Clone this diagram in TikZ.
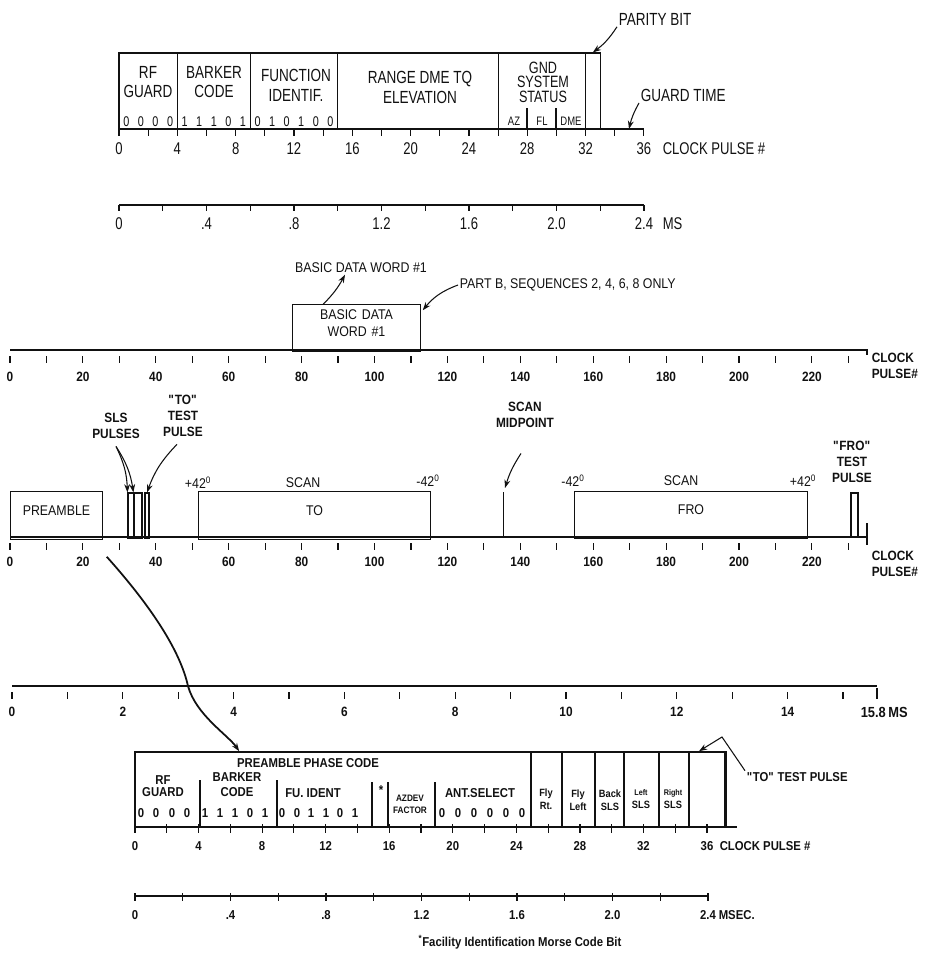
\documentclass[tikz,border=0pt]{standalone}
\usepackage{fontspec}
\setmainfont{Liberation Sans}[FakeStretch=0.88]
\newfontfamily\topfont{Liberation Sans}[FakeStretch=0.77]
\usetikzlibrary{arrows.meta,calc,fit}
\definecolor{Ink}{HTML}{111111}

\tikzset{
  wbox/.style={draw,inner sep=0pt,fit={#1}},
  lead/.style={-{Stealth[length=7pt,width=5pt]},line width=0.9pt},
  toptxt/.style={font=\topfont\fontsize{15}{17}\selectfont,align=center,inner sep=1pt},
  topnum/.style={font=\topfont\fontsize{14.5}{15}\selectfont,inner sep=1pt},
  bittxt/.style={font=\topfont\fontsize{12}{12}\selectfont,inner sep=0pt},
  midtxt/.style={font=\fontsize{12}{14}\selectfont,align=center,inner sep=1pt},
  midbold/.style={font=\bfseries\fontsize{11.5}{13.5}\selectfont,align=center,inner sep=1pt},
  midnum/.style={font=\bfseries\fontsize{11.5}{12}\selectfont,inner sep=1pt},
  bottxt/.style={font=\bfseries\fontsize{11}{12}\selectfont,align=center,inner sep=1pt},
  botsmall/.style={font=\bfseries\fontsize{9}{11}\selectfont,align=center,inner sep=0pt},
  botnum/.style={font=\bfseries\fontsize{11}{12}\selectfont,inner sep=1pt},
}

\begin{document}
\begin{tikzpicture}[x=0.03cm,y=-0.03cm,line width=1pt,color=Ink]
  \useasboundingbox (0,0) rectangle (925,955);

  % ---------- data word, upper part
  \foreach \a/\b/\nm in {0/4/rfg,4/9/bark,9/15/func,15/26/rng,26/32/gnd,32/33/par}
    \node[wbox={({119+14.58*\a},53) ({119+14.58*\b},129)}] (\nm) {};
  \node[toptxt] (rfgt) at (148,82) {RF\\GUARD};
  \node[toptxt] (barkt) at (214,82) {BARKER\\CODE};
  \node[toptxt] (funct) at (296,85) {FUNCTION\\IDENTIF.};
  \node[toptxt] (rngt) at (420,87) {RANGE DME TQ\\ELEVATION};
  \node[toptxt,font=\topfont\fontsize{14}{12.5}\selectfont] (gndt) at (543,82)
    {GND\\SYSTEM\\STATUS};
  \foreach \p/\b in {0/0,1/0,2/0,3/0,4/1,5/1,6/1,7/0,8/1,
                     9/0,10/1,11/0,12/1,13/0,14/0}
    \node[bittxt] (b\p) at ({119+14.58*(\p+0.5)},122) {\b};
  \draw (527,108) -- (527,129) (556,108) -- (556,129);
  \foreach \x/\lab in {514/AZ,542/FL,571/DME}
    \node[bittxt,font=\topfont\fontsize{10.5}{11}\selectfont] (st\lab) at (\x,121) {\lab};

  \draw (119,129) -- (644,129);
  \foreach \p in {0,2,...,36}
    \draw ({119+14.58*\p},129) -- ++(0,7);
  \foreach \p in {0,4,...,36}
    \node[topnum] (ta\p) at ({119+14.58*\p},149) {\p};
  \node[topnum,anchor=west] (cpa) at (661,149) {CLOCK PULSE \#};

  \node[toptxt,anchor=west] (parlab) at (617,19) {PARITY BIT};
  \draw[lead] (parlab.south west) to[bend left=10] (par.north);
  \node[toptxt,anchor=west] (gtlab) at (639,95) {GUARD TIME};
  \coordinate (gtend) at (629,129);
  \draw[lead] (gtlab.south west) to[bend right=8] (gtend);

  % ms scale of the word
  \draw (119,205) -- (644,205);
  \foreach \i in {0,...,12}
    \draw ({119+43.75*\i},205) -- ++(0,6);
  \foreach \i/\l in {0/0,2/.4,4/.8,6/1.2,8/1.6,10/2.0,12/2.4}
    \node[topnum] (ma\i) at ({119+43.75*\i},224) {\l};
  \node[topnum,anchor=west] (msa) at (661,224) {MS};

  % ---------- sequence in clock pulses
  \node[midtxt] (bdwlab) at (361,268) {BASIC DATA WORD \#1};
  \node[midtxt,anchor=west] (partb) at (458,285) {PART B, SEQUENCES 2, 4, 6, 8 ONLY};
  \node[wbox={(294,306) (419,350)},midtxt] (bdw) {BASIC DATA\\WORD \#1};
  \draw[lead] ($(bdw.north west)+(31,0)$) to[bend right=8] ($(bdwlab.south)+(-16,0)$);
  \draw[lead] (partb.west) to[bend right=15] ($(bdw.north east)+(2,6)$);

  \draw[line width=2pt] (10,350) -- (867,350) -- (867,355);
  \foreach \p in {0,10,...,230}
    \draw ({10+3.645*\p},356) -- ++(0,7);
  \foreach \p in {0,20,...,220}
    \node[midnum] (pa\p) at ({10+3.645*\p},377) {\p};
  \node[midbold,anchor=west,align=left] (cpb) at (870,366) {CLOCK\\PULSE\#};

  \node[wbox={(12,493) (101,538)},midtxt] (pre) {PREAMBLE};
  \node[wbox={(128,493) (134,538)}] (sls1) {};
  \node[wbox={(134,493) (142,538)}] (sls2) {};
  \node[wbox={(145,493) (149,538)}] (totp) {};
  \node[midbold] (slslab) at (116,426) {SLS\\PULSES};
  \node[midbold] (totlab) at (183,416) {\textquotedbl TO\textquotedbl\\TEST\\PULSE};
  \draw[lead] ($(slslab.south)+(0,6)$) to[bend left=12] (sls1.north west);
  \draw[lead] ($(slslab.south)+(0,6)$) to[bend left=12] (sls2.north west);
  \draw[lead] ($(totlab.south)+(-6,6)$) to[bend right=12] (totp.north);

  \node[midtxt] (plusa) at (198,483) {+42\textsuperscript{0}};
  \node[midtxt] (scana) at (303,483) {SCAN};
  \node[midtxt] (minusa) at (428,481) {-42\textsuperscript{0}};
  \node[wbox={(200,493) (429,538)},midtxt] (toscan) {TO};

  \coordinate (midt) at (503,492);
  \coordinate (midb) at (503,537);
  \draw[line width=0.7pt] (midt) -- (midb);
  \node[midbold] (midlab) at (525,415) {SCAN\\MIDPOINT};
  \draw[lead] ($(midlab.south)+(-4,24)$) to[bend right=8] ($(midt)+(2,-4)$);

  \node[midtxt] (minusb) at (573,481) {-42\textsuperscript{0}};
  \node[midtxt] (scanb) at (681,481) {SCAN};
  \node[midtxt] (plusb) at (803,481) {+42\textsuperscript{0}};
  \node[wbox={(576,493) (806,537)},midtxt] (froscan) {FRO};
  \node[wbox={(851,493) (858,537)}] (frotp) {};
  \node[midbold] (frolab) at (852,462) {\textquotedbl FRO\textquotedbl\\TEST\\PULSE};

  \draw[line width=2pt] (10,537) -- (867,537);
  \draw (867,523) -- (867,545);
  \foreach \p in {0,10,...,230}
    \draw ({10+3.645*\p},543) -- ++(0,7);
  \foreach \p in {0,20,...,220}
    \node[midnum] (pb\p) at ({10+3.645*\p},562) {\p};
  \node[midbold,anchor=west,align=left] (cpc) at (870,564) {CLOCK\\PULSE\#};

  % ms scale of the sequence
  \draw[line width=1.6pt] (12,686) -- (877,686);
  \foreach \i in {0,...,15}
    \draw ({12+55.4*\i},692) -- ++(0,7);
  \draw (877,688) -- (877,699);
  \foreach \i in {0,2,...,14}
    \node[midnum] (mb\i) at ({12+55.4*\i},712) {\i};
  \node[midnum,font=\bfseries\fontsize{12.5}{13}\selectfont,anchor=west] (msb) at (859,712) {15.8\,MS};

  % ---------- preamble word, lower part
  \begin{scope}[line width=1.4pt]
  \node[wbox={(135,752) (531,827)}] (ppc) {};
  \foreach \a/\b/\nm in {531/562/flyr,562/595/flyl,595/624/bsls,624/659/lsls,659/689/rsls}
    \node[wbox={(\a,752) (\b,827)}] (\nm) {};
  \node[wbox={(689,752) (725,827)}] (topb) {};
  \draw[line width=2.2pt] (topb.north east) -- (topb.south east);
  \foreach \x/\y in {200/780,277/780,372/782,388/782,435/782}
    \draw (\x,\y) -- (\x,827);
  \end{scope}

  \draw[lead,line width=1.5pt] ($(pre.south east)+(4,17)$)
    .. controls (150,605) and (180,650) .. (188,686)
    .. controls (196,715) and (228,735) .. ($(ppc.north west)+(105,0)$);

  \node[bottxt] (ppclab) at (308,763) {PREAMBLE PHASE CODE};
  \node[bottxt,font=\bfseries\fontsize{11}{10.5}\selectfont] (rfl) at (163,786) {RF\\GUARD};
  \node[bottxt,font=\bfseries\fontsize{11}{13}\selectfont] (barl) at (237,785) {BARKER\\CODE};
  \node[bottxt] (ful) at (313,793) {FU. IDENT};
  \node[bottxt] (astl) at (381,790) {*};
  \node[botsmall,font=\bfseries\fontsize{8}{10.5}\selectfont] (azl) at (410,804) {AZDEV\\FACTOR};
  \node[bottxt] (antl) at (480,793) {ANT.SELECT};
  \foreach \x/\b [count=\k] in {141/0,156/0,172/0,187/0,205/1,220/1,235/1,250/0,265/1,
      282/0,297/0,311/1,326/1,340/0,355/1,442/0,458/0,474/0,490/0,506/0,522/0}
    \node[botnum] (pbit\k) at (\x,813) {\b};
  \node[botsmall] (frl) at (546,799) {Fly\\Rt.};
  \node[botsmall] (fll) at (578,800) {Fly\\Left};
  \node[botsmall] (bsl) at (610,800) {Back\\SLS};
  \node[botsmall] (lsl) at (641,799) {{\fontsize{7}{8}\selectfont Left}\\SLS};
  \node[botsmall] (rsl) at (673,799) {{\fontsize{7}{8}\selectfont Right}\\SLS};

  \node[bottxt,anchor=west] (tplab) at (745,777) {\textquotedbl TO\textquotedbl\ TEST PULSE};
  \coordinate (tpk) at (722,737);
  \draw[lead] (tplab.north west) -- (tpk) -- ($(topb.north)+(-8,0)$);

  \draw[line width=1.4pt] (135,827) -- (737,827);
  \foreach \p in {0,2,...,36}
    \draw ({135+15.89*\p},824) -- ++(0,9);
  \foreach \p in {0,4,...,36}
    \node[botnum] (pc\p) at ({135+15.89*\p},846) {\p};
  \node[botnum,anchor=west] (cpd) at (718,846) {CLOCK PULSE \#};

  \draw[line width=1.4pt] (135,896) -- (708,896);
  \foreach \i in {0,...,12}
    \draw ({135+47.75*\i},893) -- ++(0,8);
  \foreach \i/\l in {0/0,2/.4,4/.8,6/1.2,8/1.6,10/2.0,12/2.4}
    \node[botnum] (mc\i) at ({135+47.75*\i},915) {\l};
  \node[botnum,anchor=west] (msc) at (717,915) {MSEC.};
  \node[botsmall,font=\bfseries\fontsize{11}{12}\selectfont] (fnote) at (520,942)
    {\textsuperscript{*}Facility Identification Morse Code Bit};
\end{tikzpicture}
\end{document}
